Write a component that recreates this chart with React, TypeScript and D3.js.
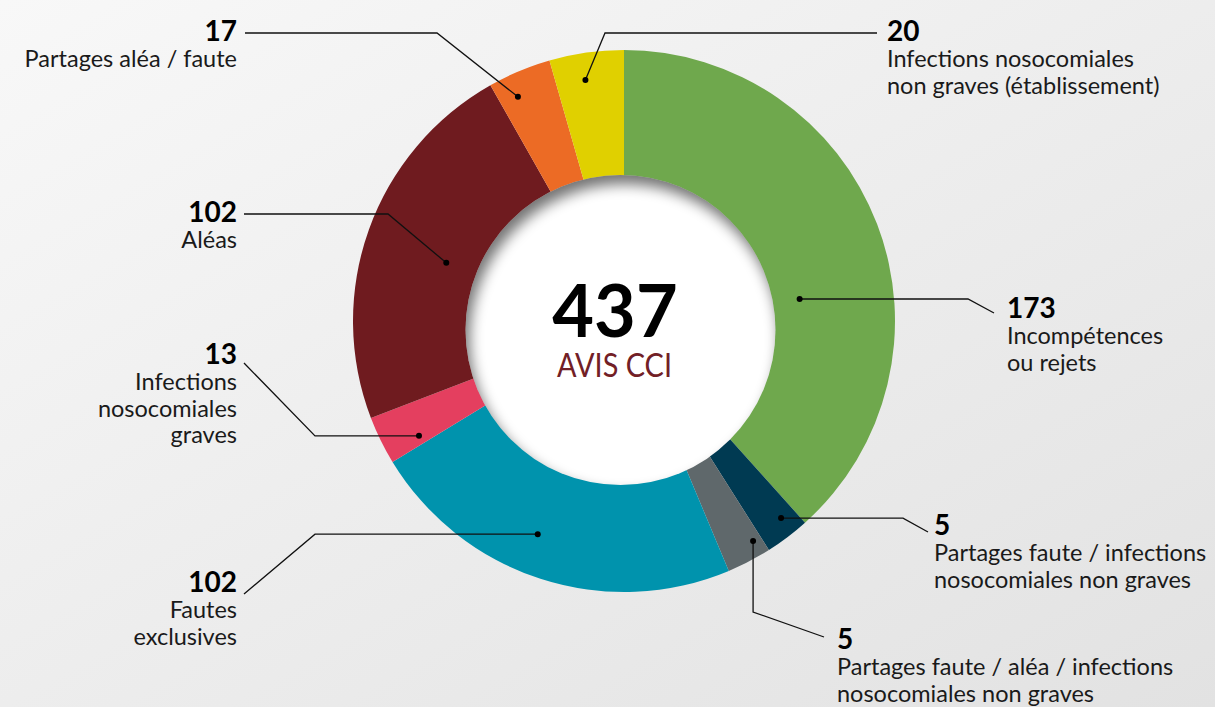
import React, { useEffect } from "react";
import * as d3 from "d3";

// ---- data ----
const categories = [
  "Incompétences ou rejets",
  "Partages faute / infections nosocomiales non graves",
  "Partages faute / aléa / infections nosocomiales non graves",
  "Fautes exclusives",
  "Infections nosocomiales graves",
  "Aléas",
  "Partages aléa / faute",
  "Infections nosocomiales non graves (établissement)",
];
const values = [173, 5, 5, 102, 13, 102, 17, 20];
const labelLines = [
  ["Incompétences", "ou rejets"],
  ["Partages faute / infections", "nosocomiales non graves"],
  ["Partages faute / aléa / infections", "nosocomiales non graves"],
  ["Fautes", "exclusives"],
  ["Infections", "nosocomiales", "graves"],
  ["Aléas"],
  ["Partages aléa / faute"],
  ["Infections nosocomiales", "non graves (établissement)"],
];
const totalLabel = "437";
const centerLabel = "AVIS CCI";

// ---- styles ----
const colors = ["#6fa84d", "#003a52", "#5f686b", "#0093ad", "#e43f5f", "#6f1b1f", "#ec6b25", "#e0d000"];
const W = 1215;
const H = 707;
const CX = 624;
const CY = 321;
const R_OUT = 271;
const R_IN = 140;
const MIN_DISPLAY = 12; // small slices drawn with a minimum weight, as in the original
const DISK = { dx: -3.5, dy: 9, r: 155 };
const FONT = "Lato, 'Open Sans', sans-serif";

type Leader = {
  frac: number;
  dotR: number;
  kind: "hfirst" | "hlast" | "vfirst";
  elbow: number;
  end: [number, number];
  tx: number;
  ty: number;
  anchor: "start" | "end";
};
const leaders: Leader[] = [
  { frac: 0.6, dotR: 177, kind: "hfirst", elbow: 968, end: [994, 313], tx: 1007, ty: 318, anchor: "start" },
  { frac: 0.35, dotR: 252, kind: "hfirst", elbow: 903, end: [928, 532], tx: 934, ty: 535, anchor: "start" },
  { frac: 0.2, dotR: 255, kind: "vfirst", elbow: 612, end: [824, 637], tx: 837, ty: 649, anchor: "start" },
  { frac: 0.55, dotR: 230, kind: "hfirst", elbow: 315, end: [244, 594], tx: 237, ty: 592, anchor: "end" },
  { frac: 0.2, dotR: 235, kind: "hfirst", elbow: 315, end: [244, 363], tx: 237, ty: 364, anchor: "end" },
  { frac: 0.48, dotR: 187, kind: "hlast", elbow: 388, end: [244, 214], tx: 237, ty: 222, anchor: "end" },
  { frac: 0.31, dotR: 248, kind: "hlast", elbow: 437, end: [245, 33], tx: 237, ty: 41, anchor: "end" },
  { frac: 0.43, dotR: 244, kind: "hlast", elbow: 605, end: [877, 33], tx: 887, ty: 41, anchor: "start" },
];

export default function App() {
  useEffect(() => {
    document.body.style.margin = "0";
  }, []);

  const pie = d3
    .pie<number>()
    .value((d) => Math.max(d, MIN_DISPLAY))
    .sort(null)
    .startAngle(0)
    .endAngle(2 * Math.PI);
  const arcs = pie(values);
  const arc = d3.arc<d3.PieArcDatum<number>>().innerRadius(R_IN).outerRadius(R_OUT);
  const lineGen = d3.line();

  return (
    <svg width={W} height={H} style={{ display: "block" }}>
      <defs>
        <linearGradient id="bg" x1="0" y1="0" x2="1" y2="1">
          <stop offset="0" stopColor="#f8f8f8" />
          <stop offset="1" stopColor="#e2e2e2" />
        </linearGradient>
        <clipPath id="diskClip">
          <circle cx={CX + DISK.dx} cy={CY + DISK.dy} r={DISK.r} />
        </clipPath>
        <filter id="blur" x="-20%" y="-20%" width="140%" height="140%">
          <feGaussianBlur stdDeviation="7" />
        </filter>
      </defs>
      <rect width={W} height={H} fill="url(#bg)" />
      <g transform={`translate(${CX},${CY})`}>
        {arcs.map((a, i) => (
          <path key={categories[i]} d={arc(a) || ""} fill={colors[i]} />
        ))}
      </g>
      <circle cx={CX + DISK.dx} cy={CY + DISK.dy} r={DISK.r} fill="#fff" />
      <g clipPath="url(#diskClip)">
        <circle
          cx={CX + DISK.dx + 4}
          cy={CY + DISK.dy + 9}
          r={DISK.r + 20}
          fill="none"
          stroke="#000"
          strokeWidth={40}
          opacity={0.55}
          filter="url(#blur)"
        />
      </g>
      {arcs.map((a, i) => {
        const L = leaders[i];
        const ang = a.startAngle + L.frac * (a.endAngle - a.startAngle);
        const [px, py] = d3.pointRadial(ang, L.dotR);
        const dot: [number, number] = [CX + px, CY + py];
        let elbow: [number, number];
        if (L.kind === "hfirst") elbow = [L.elbow, dot[1]];
        else if (L.kind === "hlast") elbow = [L.elbow, L.end[1]];
        else elbow = [dot[0], L.elbow];
        return (
          <g key={"l" + i}>
            <path d={lineGen([dot, elbow, L.end]) || ""} fill="none" stroke="#111" strokeWidth={1.3} />
            <circle cx={dot[0]} cy={dot[1]} r={3} fill="#000" />
            <text
              x={L.tx}
              y={L.ty}
              textAnchor={L.anchor}
              fontFamily={FONT}
              fontWeight={700}
              fontSize={28}
              fill="#000"
            >
              {values[i]}
            </text>
            {labelLines[i].map((t, j) => (
              <text
                key={j}
                x={L.tx}
                y={L.ty + 26 + j * 26.5}
                textAnchor={L.anchor}
                fontFamily={FONT}
                fontSize={23.5}
                fill="#1a1a1a"
              >
                {t}
              </text>
            ))}
          </g>
        );
      })}
      <text x={CX - 9} y={337} textAnchor="middle" fontFamily={FONT} fontWeight={700} fontSize={72} fill="#000">
        {totalLabel}
      </text>
      <text
        x={CX - 9.5}
        y={377}
        textAnchor="middle"
        fontFamily={FONT}
        fontSize={32}
        fill="#722026"
        textLength={115}
        lengthAdjust="spacingAndGlyphs"
      >
        {centerLabel}
      </text>
    </svg>
  );
}
